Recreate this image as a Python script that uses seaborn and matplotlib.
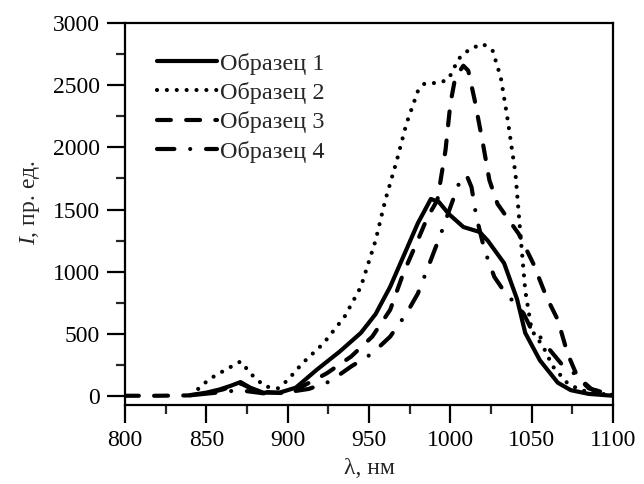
import matplotlib
matplotlib.use("Agg")
import matplotlib.pyplot as plt
import seaborn as sns
from matplotlib.ticker import MultipleLocator

# --- data ---
wl_1 = [840, 850, 858, 865, 871, 877, 885, 895, 905, 918, 932, 945, 954, 963, 971,
        980, 988, 993, 999, 1008, 1018, 1023, 1033, 1041, 1046, 1055, 1066, 1074, 1085, 1100]
int_1 = [10, 30, 55, 85, 115, 70, 30, 30, 70, 215, 360, 510, 660, 880, 1120,
         1390, 1585, 1560, 1465, 1360, 1320, 1250, 1070, 780, 510, 290, 110, 50, 20, 5]

wl_2 = [845, 852, 862, 871, 879, 886, 894, 900, 909, 922, 935, 945, 954, 960, 967, 973,
        980, 984, 994, 999, 1005, 1012, 1020, 1026, 1031, 1035, 1040, 1043, 1046, 1050,
        1057, 1063, 1072, 1080, 1090, 1100]
int_2 = [60, 140, 215, 280, 160, 80, 65, 130, 265, 425, 640, 880, 1250, 1575, 1890, 2190,
         2450, 2510, 2520, 2550, 2710, 2790, 2830, 2775, 2560, 2240, 1790, 1310, 850, 530,
         400, 240, 105, 50, 25, 10]

wl_3 = [800, 820, 840, 850, 860, 871, 881, 896, 909, 924, 939, 952, 963, 971, 980, 986,
        992, 997, 1000, 1003, 1008, 1011, 1015, 1020, 1024, 1029, 1036, 1042, 1051, 1059,
        1066, 1072, 1078, 1087, 1100]
int_3 = [5, 5, 8, 25, 55, 105, 40, 27, 80, 185, 320, 480, 695, 985, 1255, 1440,
         1575, 1975, 2350, 2560, 2655, 2615, 2375, 2030, 1735, 1545, 1415, 1305, 1065, 800,
         615, 345, 160, 55, 10]

wl_4 = [845, 860, 870, 885, 898, 913, 926, 939, 952, 963, 973, 980, 988, 995, 1000, 1006,
        1010, 1013, 1016, 1021, 1027, 1034, 1040, 1045, 1051, 1055, 1061, 1068, 1076, 1085, 1100]
int_4 = [15, 35, 50, 25, 30, 60, 120, 240, 345, 480, 665, 825, 1095, 1335, 1520, 1735,
         1775, 1680, 1440, 1175, 960, 825, 745, 665, 505, 480, 375, 265, 185, 65, 10]

labels = ["Образец 1", "Образец 2", "Образец 3", "Образец 4"]

sns.set_style("ticks")
plt.rcParams["font.family"] = ["Liberation Serif", "DejaVu Serif"]
plt.rcParams["mathtext.fontset"] = "custom"
plt.rcParams["mathtext.it"] = "Liberation Serif:italic"
plt.rcParams["mathtext.rm"] = "Liberation Serif"
plt.rcParams["lines.scale_dashes"] = False

fig = plt.figure(figsize=(6.44, 4.84), dpi=100)
ax = fig.add_axes([0.194, 0.163, 0.758, 0.790])

lw = 3.0
estilos = [
    dict(linestyle="-"),
    dict(linestyle=(0, (0.01, 7.1)), dash_capstyle="round"),
    dict(linestyle=(0, (10, 11)), dash_capstyle="round"),
    dict(linestyle=(0, (12.5, 11.4, 0.01, 11.4)), dash_capstyle="round"),
]
series = [(wl_1, int_1), (wl_2, int_2), (wl_3, int_3), (wl_4, int_4)]

for (x, y), lab, st in zip(series, labels, estilos):
    sns.lineplot(x=x, y=y, ax=ax, color="black", lw=lw, label=lab, **st)

ax.set_xlim(800, 1100)
ax.set_ylim(-70, 3000)
ax.xaxis.set_major_locator(MultipleLocator(50))
ax.xaxis.set_minor_locator(MultipleLocator(25))
ax.yaxis.set_major_locator(MultipleLocator(500))
ax.yaxis.set_minor_locator(MultipleLocator(250))

ax.tick_params(which="major", direction="out", length=13, width=1.6,
               labelsize=17, pad=5, colors="black")
ax.tick_params(which="minor", direction="out", length=6.5, width=1.6)
for s in ax.spines.values():
    s.set_visible(True)
    s.set_linewidth(1.6)
    s.set_color("black")

ax.set_xlabel("λ, нм", fontsize=17, labelpad=5)
ax.set_ylabel("$I$, пр. ед.", fontsize=17)
ax.yaxis.set_label_coords(-0.17, 0.53)

leg = ax.legend(loc="upper left", bbox_to_anchor=(0.035, 0.96), frameon=False,
                fontsize=17.5, handlelength=2.5, handletextpad=0.12,
                labelspacing=0.3, borderaxespad=0.2)
for h in leg.get_lines():
    h.set_linewidth(lw)

fig.savefig("out.png", dpi=100, facecolor="white")
